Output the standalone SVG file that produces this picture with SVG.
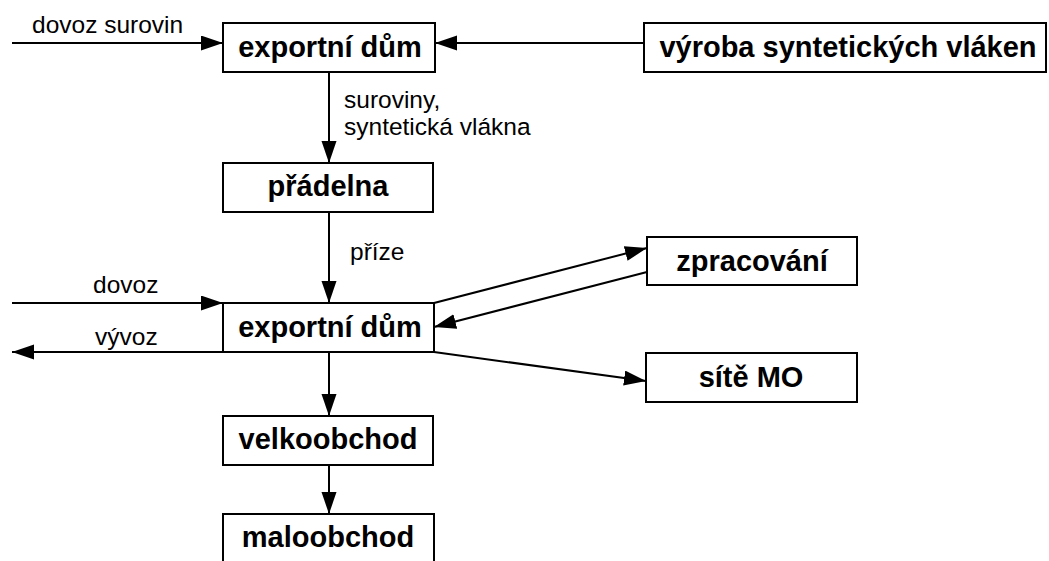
<svg xmlns="http://www.w3.org/2000/svg" width="1049" height="561" viewBox="0 0 1049 561">
<style>
.box{fill:#fff;stroke:#000;stroke-width:2}
.b{font-family:"Liberation Sans",Arial,sans-serif;font-weight:bold;font-size:29px;text-anchor:middle;fill:#000}
.r{font-family:"Liberation Sans",Arial,sans-serif;font-size:24.5px;fill:#000}
.c{stroke:#000;stroke-width:2;fill:none;marker-end:url(#ah)}
</style>
<defs>
<marker id="ah" markerUnits="userSpaceOnUse" markerWidth="24" markerHeight="16" refX="22" refY="7.5" orient="auto">
<path d="M0,0 L22,7.5 L0,15 z" fill="#000"/>
</marker>
</defs>
<rect width="1049" height="561" fill="#fff"/>
<g id="connectors">
<line class="c" x1="12" y1="43" x2="223" y2="43"/>
<line class="c" x1="644" y1="43" x2="435" y2="43"/>
<line class="c" x1="329" y1="72" x2="329" y2="163"/>
<line class="c" x1="329" y1="212" x2="329" y2="303"/>
<line class="c" x1="12" y1="303" x2="223" y2="303"/>
<line class="c" x1="223" y1="352" x2="12" y2="352"/>
<line class="c" x1="434" y1="303" x2="647" y2="248"/>
<line class="c" x1="647" y1="272" x2="434" y2="327"/>
<line class="c" x1="434" y1="352" x2="646" y2="381"/>
<line class="c" x1="329" y1="352" x2="329" y2="416"/>
<line class="c" x1="329" y1="465" x2="329" y2="514"/>
<text class="r" x="32" y="33">dovoz surovin</text>
<text class="r" x="344" y="108">suroviny,</text>
<text class="r" x="344" y="135">syntetická vlákna</text>
<text class="r" x="350" y="260">příze</text>
<text class="r" x="93" y="293">dovoz</text>
<text class="r" x="95" y="345">vývoz</text>
</g>
<g id="export1"><rect class="box" x="223" y="23" width="212" height="49"/><text class="b" x="330" y="57">exportní dům</text></g>
<g id="vyroba"><rect class="box" x="644" y="23" width="402" height="49"/><text class="b" x="848" y="57">výroba syntetických vláken</text></g>
<g id="pradelna"><rect class="box" x="223" y="163" width="210" height="49"/><text class="b" x="328" y="196">přádelna</text></g>
<g id="export2"><rect class="box" x="223" y="303" width="211" height="49"/><text class="b" x="330" y="337">exportní dům</text></g>
<g id="zpracovani"><rect class="box" x="647" y="237" width="210" height="48"/><text class="b" x="752" y="271">zpracování</text></g>
<g id="site"><rect class="box" x="646" y="353" width="211" height="49"/><text class="b" x="751" y="387">sítě MO</text></g>
<g id="velkoobchod"><rect class="box" x="223" y="416" width="210" height="49"/><text class="b" x="328" y="449">velkoobchod</text></g>
<g id="maloobchod"><rect class="box" x="223" y="514" width="211" height="60"/><text class="b" x="328" y="547">maloobchod</text></g>
</svg>
